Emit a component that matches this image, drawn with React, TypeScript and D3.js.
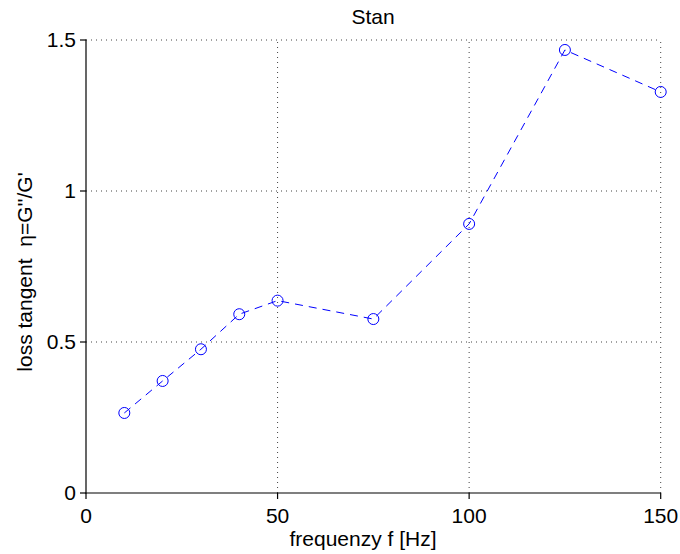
import React from "react";
import * as d3 from "d3";

const frequencies = [10, 20, 30, 40, 50, 75, 100, 125, 150];
const lossTangent = [0.265, 0.371, 0.476, 0.592, 0.637, 0.576, 0.891, 1.467, 1.328];
const xTicks = [0, 50, 100, 150];
const yTicks = [0, 0.5, 1, 1.5];
const yTickLabels = ["0", "0.5", "1", "1.5"];
const title = "Stan";
const xLabel = "frequenzy f [Hz]";
const yLabel = "loss tangent  \u03b7=G''/G'";

const W = 680;
const H = 554;
const M = { left: 86, right: 680 - 660.7, top: 40, bottom: 554 - 493 };

export default function App() {
  const x = d3.scaleLinear().domain([0, 150]).range([M.left, W - M.right]);
  const y = d3.scaleLinear().domain([0, 1.5]).range([H - M.bottom, M.top]);
  const line = d3
    .line<number>()
    .x((_, i) => x(frequencies[i]))
    .y((d) => y(d));
  const font = "'Liberation Sans', Arial, sans-serif";
  const x0 = x(0);
  const y0 = y(0);
  const fs = 21;
  return (
    <svg
      width={W}
      height={H}
      style={{ position: "absolute", left: 0, top: 0, background: "#fff" }}
      fontFamily={font}
    >
      <rect width={W} height={H} fill="#fff" />
      {/* grid */}
      {xTicks.slice(1).map((t) => (
        <line
          key={"gx" + t}
          x1={x(t)}
          x2={x(t)}
          y1={y(0)}
          y2={y(1.5)}
          stroke="#444"
          strokeWidth={1}
          strokeDasharray="1 4"
        />
      ))}
      {yTicks.slice(1).map((t) => (
        <line
          key={"gy" + t}
          x1={x(0)}
          x2={x(150)}
          y1={y(t)}
          y2={y(t)}
          stroke="#444"
          strokeWidth={1}
          strokeDasharray="1 4"
        />
      ))}
      {/* axes */}
      <line x1={x0} x2={x0} y1={y(1.5) - 0.5} y2={y0 + 0.5} stroke="#000" strokeWidth={1.2} />
      <line x1={x0 - 0.5} x2={x(150)} y1={y0} y2={y0} stroke="#000" strokeWidth={1.2} />
      {yTicks.map((t, i) => (
        <g key={"yt" + t}>
          <line x1={x0 - 6} x2={x0} y1={y(t)} y2={y(t)} stroke="#000" strokeWidth={1.2} />
          <text x={x0 - 10} y={y(t)} dy="0.35em" textAnchor="end" fontSize={fs} fill="#000">
            {yTickLabels[i]}
          </text>
        </g>
      ))}
      {xTicks.map((t) => (
        <g key={"xt" + t}>
          <line x1={x(t)} x2={x(t)} y1={y0} y2={y0 + 6} stroke="#000" strokeWidth={1.2} />
          <text x={x(t)} y={y0 + 30} textAnchor="middle" fontSize={fs} fill="#000">
            {t}
          </text>
        </g>
      ))}
      {/* data */}
      <path d={line(lossTangent) || ""} fill="none" stroke="#0000ff" strokeWidth={1} strokeDasharray="8 6" />
      {lossTangent.map((v, i) => (
        <circle key={"p" + i} cx={x(frequencies[i])} cy={y(v)} r={5.5} fill="none" stroke="#0000ff" strokeWidth={1} />
      ))}
      {/* labels */}
      <text x={373} y={24} textAnchor="middle" fontSize={fs} fill="#000">
        {title}
      </text>
      <text x={363} y={546} textAnchor="middle" fontSize={fs} fill="#000">
        {xLabel}
      </text>
      <text
        transform={`translate(32, 272) rotate(-90)`}
        textAnchor="middle"
        fontSize={fs}
        fill="#000"
        style={{ whiteSpace: "pre" }}
      >
        {yLabel}
      </text>
    </svg>
  );
}
